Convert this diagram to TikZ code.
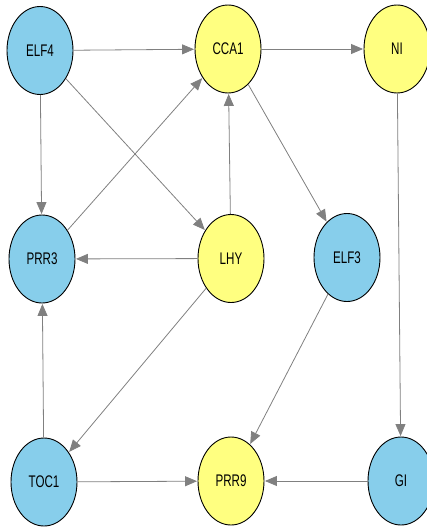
\documentclass[tikz,border=0pt]{standalone}
\usepackage{fontspec}
\setmainfont{Liberation Sans}
\usetikzlibrary{shapes.geometric,arrows.meta}
\definecolor{nodeblue}{RGB}{135,206,235}
\definecolor{nodeyellow}{RGB}{255,255,128}
\definecolor{edgegray}{RGB}{128,128,128}
\tikzset{
  gene/.style={ellipse, draw=black, line width=0.9pt, minimum width=66pt, minimum height=88pt, inner sep=0pt, font=\fontsize{11.6}{13}\selectfont},
  bluegene/.style={gene, fill=nodeblue},
  yellowgene/.style={gene, fill=nodeyellow},
  link/.style={draw=edgegray, line width=0.8pt, -{Triangle[length=12pt,width=10pt]}, shorten >=0.5pt}
}
\newcommand{\lbl}[1]{\scalebox{1}[1.45]{#1}}
\begin{document}
\begin{tikzpicture}[x=1pt,y=-1pt]
\useasboundingbox (0,0) rectangle (427,527);
\node[bluegene] (ELF4) at (40,50.5) {\lbl{ELF4}};
\node[yellowgene] (CCA1) at (228,49) {\lbl{CCA1}};
\node[yellowgene] (NI) at (397,49) {\lbl{NI}};
\node[bluegene] (PRR3) at (42,259) {\lbl{PRR3}};
\node[yellowgene] (LHY) at (231,258.5) {\lbl{LHY}};
\node[bluegene] (ELF3) at (347,257.5) {\lbl{ELF3}};
\node[bluegene] (TOC1) at (44,482) {\lbl{TOC1}};
\node[yellowgene] (PRR9) at (231,481) {\lbl{PRR9}};
\node[bluegene] (GI) at (401,481) {\lbl{GI}};
\draw[link] (ELF4) -- (CCA1);
\draw[link] (ELF4) -- (PRR3);
\draw[link] (ELF4) -- (LHY);
\draw[link] (CCA1) -- (NI);
\draw[link] (CCA1) -- (ELF3);
\draw[link] (PRR3) -- (CCA1);
\draw[link] (LHY) -- (CCA1);
\draw[link] (LHY) -- (PRR3);
\draw[link] (LHY) -- (TOC1);
\draw[link] (TOC1) -- (PRR3);
\draw[link] (TOC1) -- (PRR9);
\draw[link] (ELF3) -- (PRR9);
\draw[link] (NI) -- (GI);
\draw[link] (GI) -- (PRR9);
\end{tikzpicture}
\end{document}
